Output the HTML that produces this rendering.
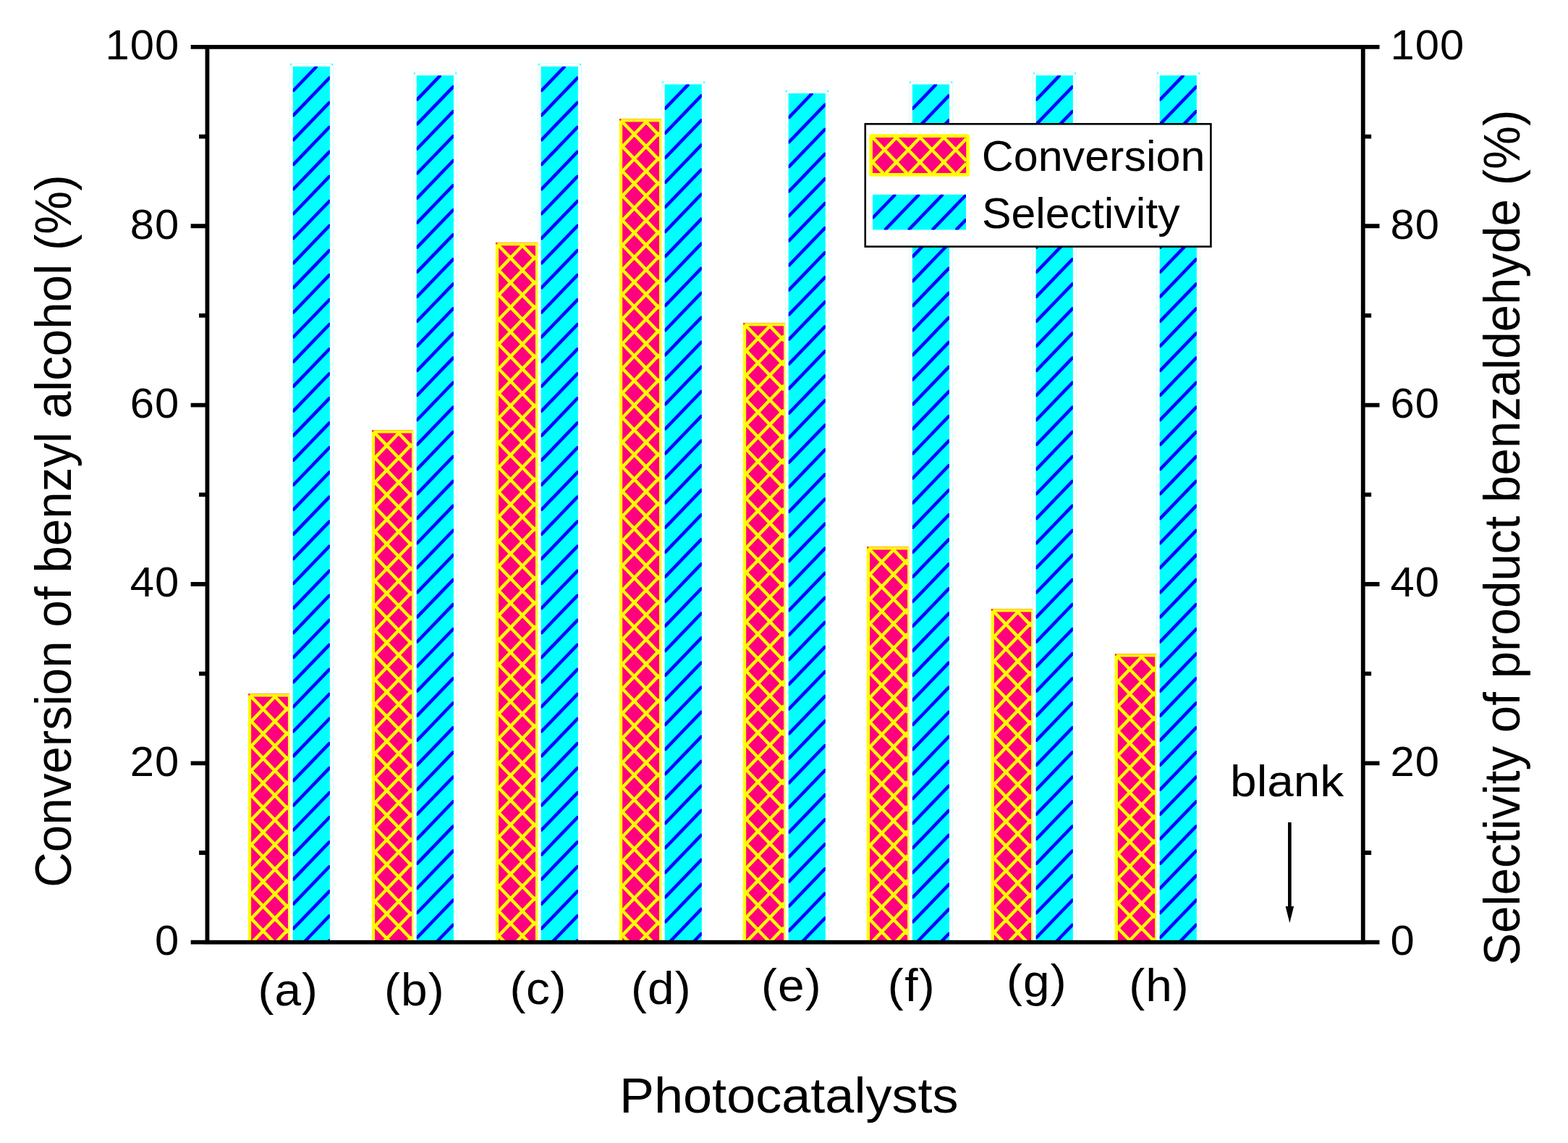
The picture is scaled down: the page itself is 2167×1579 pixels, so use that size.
<!DOCTYPE html>
<html lang="en"><head><meta charset="utf-8"><title>Photocatalysts: conversion and selectivity</title>
<style>html,body{margin:0;padding:0;background:#fff;}body{width:2167px;height:1579px;overflow:hidden;}svg{display:block;}text{font-family:'Liberation Sans', Arial, Helvetica, sans-serif;fill:#000;}</style>
</head><body>
<svg width="2167" height="1579" viewBox="0 0 2167 1579" role="img" aria-label="Bar chart of conversion of benzyl alcohol and selectivity of product benzaldehyde for photocatalysts (a) to (h)">
<rect width="2167" height="1579" fill="#fff"/>
<g id="bars">
<rect x="343.42" y="958.14" width="56.95" height="343.56" fill="#ff007f"/><clipPath id="c1"><rect x="346.67" y="962.04" width="51.77" height="339.66"/></clipPath><path clip-path="url(#c1)" d="M346.7 997.1L380.4 962.0M346.7 1031.2L398.4 977.4M346.7 1065.2L398.4 1011.4M346.7 1099.3L398.4 1045.5M346.7 1133.3L398.4 1079.5M346.7 1167.4L398.4 1113.6M346.7 1201.4L398.4 1147.6M346.7 1235.5L398.4 1181.7M346.7 1269.5L398.4 1215.7M348.5 1301.7L398.4 1249.8M381.2 1301.7L398.4 1283.8M346.7 1268.5L378.7 1301.7M346.7 1234.4L398.4 1288.2M346.7 1200.4L398.4 1254.2M346.7 1166.3L398.4 1220.1M346.7 1132.3L398.4 1186.0M346.7 1098.2L398.4 1152.0M346.7 1064.2L398.4 1118.0M346.7 1030.1L398.4 1083.9M346.7 996.1L398.4 1049.8M346.7 962.0L398.4 1015.8M379.5 962.0L398.4 981.8" stroke="#ffff00" stroke-width="4.50" stroke-linecap="butt" fill="none"/><rect x="342.82" y="958.14" width="4.35" height="343.56" fill="#ffff00"/><rect x="342.82" y="958.14" width="57.55" height="4.40" fill="#ffff00"/><rect x="397.94" y="958.14" width="2.43" height="343.56" fill="#ffff00"/><rect x="342.82" y="958.04" width="57.55" height="0.85" fill="#ff007f" fill-opacity="0.3"/><rect x="343.17" y="958.39" width="2.25" height="2.25" fill="#ff007f" fill-opacity="0.9"/>
<rect x="400.07" y="86.94" width="60.97" height="1214.76" fill="#fff"/><path d="M400.57 1301.70V88.94L402.07 87.44H459.04L460.54 88.94V1301.70" fill="none" stroke="#00ffff" stroke-opacity="0.17" stroke-width="1.05"/><rect x="401.07" y="87.99" width="1.90" height="2.05" fill="#00ffff" fill-opacity="0.85"/><rect x="458.14" y="87.99" width="1.90" height="2.05" fill="#00ffff" fill-opacity="0.85"/><rect x="404.77" y="91.84" width="51.12" height="1209.86" fill="#00ffff"/><clipPath id="c2"><rect x="404.77" y="91.84" width="51.12" height="1209.86"/></clipPath><path clip-path="url(#c2)" d="M405.6 125.0L436.7 92.7M405.6 159.1L455.1 107.7M405.6 193.1L455.1 141.8M405.6 227.2L455.1 175.8M405.6 261.2L455.1 209.9M405.6 295.3L455.1 243.9M405.6 329.3L455.1 278.0M405.6 363.4L455.1 312.0M405.6 397.4L455.1 346.1M405.6 431.5L455.1 380.1M405.6 465.5L455.1 414.2M405.6 499.6L455.1 448.2M405.6 533.6L455.1 482.3M405.6 567.7L455.1 516.3M405.6 601.7L455.1 550.4M405.6 635.8L455.1 584.4M405.6 669.8L455.1 618.5M405.6 703.9L455.1 652.5M405.6 737.9L455.1 686.6M405.6 772.0L455.1 720.6M405.6 806.0L455.1 754.7M405.6 840.1L455.1 788.7M405.6 874.1L455.1 822.8M405.6 908.2L455.1 856.8M405.6 942.2L455.1 890.9M405.6 976.3L455.1 924.9M405.6 1010.3L455.1 959.0M405.6 1044.4L455.1 993.0M405.6 1078.4L455.1 1027.1M405.6 1112.5L455.1 1061.1M405.6 1146.5L455.1 1095.2M405.6 1180.6L455.1 1129.2M405.6 1214.6L455.1 1163.3M405.6 1248.7L455.1 1197.3M405.6 1282.7L455.1 1231.4M420.1 1301.7L455.1 1265.4M452.9 1301.7L455.1 1299.5" stroke="#0000ff" stroke-width="4.50" stroke-linecap="round" fill="none"/>
<rect x="514.42" y="594.03" width="56.95" height="707.67" fill="#ff007f"/><clipPath id="c3"><rect x="517.67" y="597.93" width="51.77" height="703.77"/></clipPath><path clip-path="url(#c3)" d="M517.7 599.0L518.6 597.9M517.7 633.0L551.4 597.9M517.7 667.0L569.4 613.3M517.7 701.1L569.4 647.3M517.7 735.1L569.4 681.4M517.7 769.2L569.4 715.4M517.7 803.2L569.4 749.5M517.7 837.3L569.4 783.5M517.7 871.4L569.4 817.6M517.7 905.4L569.4 851.6M517.7 939.5L569.4 885.7M517.7 973.5L569.4 919.7M517.7 1007.5L569.4 953.8M517.7 1041.6L569.4 987.8M517.7 1075.7L569.4 1021.9M517.7 1109.7L569.4 1055.9M517.7 1143.8L569.4 1090.0M517.7 1177.8L569.4 1124.0M517.7 1211.8L569.4 1158.1M517.7 1245.9L569.4 1192.1M517.7 1280.0L569.4 1226.2M529.5 1301.7L569.4 1260.2M562.3 1301.7L569.4 1294.3M517.7 1278.9L539.6 1301.7M517.7 1244.9L569.4 1298.6M517.7 1210.8L569.4 1264.6M517.7 1176.8L569.4 1230.5M517.7 1142.7L569.4 1196.5M517.7 1108.7L569.4 1162.4M517.7 1074.6L569.4 1128.4M517.7 1040.6L569.4 1094.3M517.7 1006.5L569.4 1060.3M517.7 972.5L569.4 1026.2M517.7 938.4L569.4 992.2M517.7 904.4L569.4 958.1M517.7 870.3L569.4 924.1M517.7 836.3L569.4 890.0M517.7 802.2L569.4 856.0M517.7 768.2L569.4 821.9M517.7 734.1L569.4 787.9M517.7 700.1L569.4 753.8M517.7 666.0L569.4 719.8M517.7 632.0L569.4 685.7M517.7 597.9L569.4 651.7M550.5 597.9L569.4 617.6" stroke="#ffff00" stroke-width="4.50" stroke-linecap="butt" fill="none"/><rect x="513.82" y="594.03" width="4.35" height="707.67" fill="#ffff00"/><rect x="513.82" y="594.03" width="57.55" height="4.40" fill="#ffff00"/><rect x="568.94" y="594.03" width="2.43" height="707.67" fill="#ffff00"/><rect x="513.82" y="593.93" width="57.55" height="0.85" fill="#ff007f" fill-opacity="0.3"/><rect x="514.17" y="594.28" width="2.25" height="2.25" fill="#ff007f" fill-opacity="0.9"/>
<rect x="571.07" y="99.30" width="60.97" height="1202.40" fill="#fff"/><path d="M571.57 1301.70V101.30L573.07 99.80H630.04L631.54 101.30V1301.70" fill="none" stroke="#00ffff" stroke-opacity="0.17" stroke-width="1.05"/><rect x="572.07" y="100.35" width="1.90" height="2.05" fill="#00ffff" fill-opacity="0.85"/><rect x="629.14" y="100.35" width="1.90" height="2.05" fill="#00ffff" fill-opacity="0.85"/><rect x="575.77" y="104.20" width="51.12" height="1197.50" fill="#00ffff"/><clipPath id="c4"><rect x="575.77" y="104.20" width="51.12" height="1197.50"/></clipPath><path clip-path="url(#c4)" d="M576.6 137.4L607.7 105.1M576.6 171.4L626.1 120.1M576.6 205.5L626.1 154.1M576.6 239.5L626.1 188.2M576.6 273.6L626.1 222.2M576.6 307.6L626.1 256.3M576.6 341.7L626.1 290.3M576.6 375.7L626.1 324.4M576.6 409.8L626.1 358.4M576.6 443.8L626.1 392.5M576.6 477.9L626.1 426.5M576.6 511.9L626.1 460.6M576.6 546.0L626.1 494.6M576.6 580.0L626.1 528.7M576.6 614.1L626.1 562.7M576.6 648.1L626.1 596.8M576.6 682.2L626.1 630.8M576.6 716.2L626.1 664.9M576.6 750.3L626.1 698.9M576.6 784.3L626.1 733.0M576.6 818.4L626.1 767.0M576.6 852.4L626.1 801.1M576.6 886.5L626.1 835.1M576.6 920.5L626.1 869.2M576.6 954.6L626.1 903.2M576.6 988.6L626.1 937.3M576.6 1022.7L626.1 971.3M576.6 1056.7L626.1 1005.4M576.6 1090.8L626.1 1039.4M576.6 1124.8L626.1 1073.5M576.6 1158.9L626.1 1107.5M576.6 1192.9L626.1 1141.6M576.6 1227.0L626.1 1175.6M576.6 1261.0L626.1 1209.7M576.6 1295.1L626.1 1243.7M603.0 1301.7L626.1 1277.8" stroke="#0000ff" stroke-width="4.50" stroke-linecap="round" fill="none"/>
<rect x="685.42" y="334.92" width="57.87" height="966.78" fill="#ff007f"/><clipPath id="c5"><rect x="688.67" y="338.82" width="51.77" height="962.88"/></clipPath><path clip-path="url(#c5)" d="M688.7 373.9L722.4 338.8M688.7 407.9L740.4 354.2M688.7 442.0L740.4 388.2M688.7 476.0L740.4 422.3M688.7 510.1L740.4 456.3M688.7 544.1L740.4 490.4M688.7 578.2L740.4 524.4M688.7 612.2L740.4 558.5M688.7 646.3L740.4 592.5M688.7 680.3L740.4 626.6M688.7 714.4L740.4 660.6M688.7 748.4L740.4 694.7M688.7 782.5L740.4 728.7M688.7 816.5L740.4 762.8M688.7 850.6L740.4 796.8M688.7 884.6L740.4 830.9M688.7 918.7L740.4 864.9M688.7 952.7L740.4 899.0M688.7 986.8L740.4 933.0M688.7 1020.8L740.4 967.1M688.7 1054.9L740.4 1001.1M688.7 1088.9L740.4 1035.2M688.7 1123.0L740.4 1069.2M688.7 1157.0L740.4 1103.3M688.7 1191.1L740.4 1137.3M688.7 1225.1L740.4 1171.4M688.7 1259.2L740.4 1205.4M688.7 1293.2L740.4 1239.5M713.3 1301.7L740.4 1273.5M688.7 1292.2L697.8 1301.7M688.7 1258.2L730.6 1301.7M688.7 1224.1L740.4 1277.9M688.7 1190.0L740.4 1243.8M688.7 1156.0L740.4 1209.8M688.7 1122.0L740.4 1175.7M688.7 1087.9L740.4 1141.7M688.7 1053.8L740.4 1107.6M688.7 1019.8L740.4 1073.6M688.7 985.8L740.4 1039.5M688.7 951.7L740.4 1005.5M688.7 917.6L740.4 971.4M688.7 883.6L740.4 937.4M688.7 849.5L740.4 903.3M688.7 815.5L740.4 869.3M688.7 781.5L740.4 835.2M688.7 747.4L740.4 801.2M688.7 713.4L740.4 767.1M688.7 679.3L740.4 733.1M688.7 645.2L740.4 699.0M688.7 611.2L740.4 665.0M688.7 577.1L740.4 630.9M688.7 543.1L740.4 596.9M688.7 509.1L740.4 562.8M688.7 475.0L740.4 528.8M688.7 440.9L740.4 494.7M688.7 406.9L740.4 460.7M688.7 372.9L740.4 426.6M688.7 338.8L740.4 392.6M721.5 338.8L740.4 358.5" stroke="#ffff00" stroke-width="4.50" stroke-linecap="butt" fill="none"/><rect x="684.82" y="334.92" width="4.35" height="966.78" fill="#ffff00"/><rect x="684.82" y="334.92" width="58.47" height="4.40" fill="#ffff00"/><rect x="739.94" y="334.92" width="3.35" height="966.78" fill="#ffff00"/><rect x="684.82" y="334.82" width="58.47" height="0.85" fill="#ff007f" fill-opacity="0.3"/><rect x="685.17" y="335.17" width="2.25" height="2.25" fill="#ff007f" fill-opacity="0.9"/>
<rect x="742.99" y="86.94" width="60.97" height="1214.76" fill="#fff"/><path d="M743.49 1301.70V88.94L744.99 87.44H801.96L803.46 88.94V1301.70" fill="none" stroke="#00ffff" stroke-opacity="0.17" stroke-width="1.05"/><rect x="743.99" y="87.99" width="1.90" height="2.05" fill="#00ffff" fill-opacity="0.85"/><rect x="801.06" y="87.99" width="1.90" height="2.05" fill="#00ffff" fill-opacity="0.85"/><rect x="747.69" y="91.84" width="51.12" height="1209.86" fill="#00ffff"/><clipPath id="c6"><rect x="747.69" y="91.84" width="51.12" height="1209.86"/></clipPath><path clip-path="url(#c6)" d="M748.5 125.0L779.6 92.7M748.5 159.1L798.0 107.7M748.5 193.1L798.0 141.8M748.5 227.2L798.0 175.8M748.5 261.2L798.0 209.9M748.5 295.3L798.0 243.9M748.5 329.3L798.0 278.0M748.5 363.4L798.0 312.0M748.5 397.4L798.0 346.1M748.5 431.5L798.0 380.1M748.5 465.5L798.0 414.2M748.5 499.6L798.0 448.2M748.5 533.6L798.0 482.3M748.5 567.7L798.0 516.3M748.5 601.7L798.0 550.4M748.5 635.8L798.0 584.4M748.5 669.8L798.0 618.5M748.5 703.9L798.0 652.5M748.5 737.9L798.0 686.6M748.5 772.0L798.0 720.6M748.5 806.0L798.0 754.7M748.5 840.1L798.0 788.7M748.5 874.1L798.0 822.8M748.5 908.2L798.0 856.8M748.5 942.2L798.0 890.9M748.5 976.3L798.0 924.9M748.5 1010.3L798.0 959.0M748.5 1044.4L798.0 993.0M748.5 1078.4L798.0 1027.1M748.5 1112.5L798.0 1061.1M748.5 1146.5L798.0 1095.2M748.5 1180.6L798.0 1129.2M748.5 1214.6L798.0 1163.3M748.5 1248.7L798.0 1197.3M748.5 1282.7L798.0 1231.4M763.0 1301.7L798.0 1265.4M795.8 1301.7L798.0 1299.5" stroke="#0000ff" stroke-width="4.50" stroke-linecap="round" fill="none"/>
<rect x="856.42" y="163.99" width="57.87" height="1137.71" fill="#ff007f"/><clipPath id="c7"><rect x="859.67" y="167.89" width="51.77" height="1133.81"/></clipPath><path clip-path="url(#c7)" d="M859.7 168.9L860.6 167.9M859.7 203.0L893.4 167.9M859.7 237.0L911.4 183.2M859.7 271.1L911.4 217.3M859.7 305.1L911.4 251.3M859.7 339.2L911.4 285.4M859.7 373.2L911.4 319.4M859.7 407.3L911.4 353.5M859.7 441.3L911.4 387.5M859.7 475.4L911.4 421.6M859.7 509.4L911.4 455.6M859.7 543.5L911.4 489.7M859.7 577.5L911.4 523.7M859.7 611.6L911.4 557.8M859.7 645.6L911.4 591.8M859.7 679.7L911.4 625.9M859.7 713.7L911.4 659.9M859.7 747.8L911.4 694.0M859.7 781.8L911.4 728.0M859.7 815.9L911.4 762.1M859.7 849.9L911.4 796.1M859.7 884.0L911.4 830.2M859.7 918.0L911.4 864.2M859.7 952.1L911.4 898.3M859.7 986.1L911.4 932.3M859.7 1020.2L911.4 966.4M859.7 1054.2L911.4 1000.4M859.7 1088.3L911.4 1034.5M859.7 1122.3L911.4 1068.5M859.7 1156.4L911.4 1102.6M859.7 1190.4L911.4 1136.6M859.7 1224.5L911.4 1170.7M859.7 1258.5L911.4 1204.7M859.7 1292.6L911.4 1238.8M883.6 1301.7L911.4 1272.8M859.7 1291.5L869.5 1301.7M859.7 1257.5L902.2 1301.7M859.7 1223.4L911.4 1277.2M859.7 1189.4L911.4 1243.2M859.7 1155.3L911.4 1209.1M859.7 1121.3L911.4 1175.0M859.7 1087.2L911.4 1141.0M859.7 1053.2L911.4 1107.0M859.7 1019.1L911.4 1072.9M859.7 985.1L911.4 1038.8M859.7 951.0L911.4 1004.8M859.7 917.0L911.4 970.8M859.7 882.9L911.4 936.7M859.7 848.9L911.4 902.6M859.7 814.8L911.4 868.6M859.7 780.8L911.4 834.5M859.7 746.7L911.4 800.5M859.7 712.7L911.4 766.5M859.7 678.6L911.4 732.4M859.7 644.6L911.4 698.4M859.7 610.5L911.4 664.3M859.7 576.5L911.4 630.2M859.7 542.4L911.4 596.2M859.7 508.4L911.4 562.1M859.7 474.3L911.4 528.1M859.7 440.3L911.4 494.1M859.7 406.2L911.4 460.0M859.7 372.2L911.4 425.9M859.7 338.1L911.4 391.9M859.7 304.1L911.4 357.9M859.7 270.0L911.4 323.8M859.7 236.0L911.4 289.8M859.7 201.9L911.4 255.7M859.7 167.9L911.4 221.7M892.5 167.9L911.4 187.6" stroke="#ffff00" stroke-width="4.50" stroke-linecap="butt" fill="none"/><rect x="855.82" y="163.99" width="4.35" height="1137.71" fill="#ffff00"/><rect x="855.82" y="163.99" width="58.47" height="4.40" fill="#ffff00"/><rect x="910.94" y="163.99" width="3.35" height="1137.71" fill="#ffff00"/><rect x="855.82" y="163.89" width="58.47" height="0.85" fill="#ff007f" fill-opacity="0.3"/><rect x="856.17" y="164.24" width="2.25" height="2.25" fill="#ff007f" fill-opacity="0.9"/>
<rect x="913.99" y="111.67" width="60.97" height="1190.03" fill="#fff"/><path d="M914.49 1301.70V113.67L915.99 112.17H972.96L974.46 113.67V1301.70" fill="none" stroke="#00ffff" stroke-opacity="0.17" stroke-width="1.05"/><rect x="914.99" y="112.72" width="1.90" height="2.05" fill="#00ffff" fill-opacity="0.85"/><rect x="972.06" y="112.72" width="1.90" height="2.05" fill="#00ffff" fill-opacity="0.85"/><rect x="918.69" y="116.57" width="51.12" height="1185.13" fill="#00ffff"/><clipPath id="c8"><rect x="918.69" y="116.57" width="51.12" height="1185.13"/></clipPath><path clip-path="url(#c8)" d="M919.5 149.8L950.6 117.4M919.5 183.8L969.0 132.4M919.5 217.9L969.0 166.5M919.5 251.9L969.0 200.5M919.5 286.0L969.0 234.6M919.5 320.0L969.0 268.6M919.5 354.1L969.0 302.7M919.5 388.1L969.0 336.7M919.5 422.2L969.0 370.8M919.5 456.2L969.0 404.8M919.5 490.3L969.0 438.9M919.5 524.3L969.0 472.9M919.5 558.4L969.0 507.0M919.5 592.4L969.0 541.0M919.5 626.5L969.0 575.1M919.5 660.5L969.0 609.1M919.5 694.6L969.0 643.2M919.5 728.6L969.0 677.2M919.5 762.7L969.0 711.3M919.5 796.7L969.0 745.3M919.5 830.8L969.0 779.4M919.5 864.8L969.0 813.4M919.5 898.9L969.0 847.5M919.5 932.9L969.0 881.5M919.5 967.0L969.0 915.6M919.5 1001.0L969.0 949.6M919.5 1035.1L969.0 983.7M919.5 1069.1L969.0 1017.7M919.5 1103.2L969.0 1051.8M919.5 1137.2L969.0 1085.8M919.5 1171.3L969.0 1119.9M919.5 1205.3L969.0 1153.9M919.5 1239.4L969.0 1188.0M919.5 1273.4L969.0 1222.0M925.1 1301.7L969.0 1256.1M957.9 1301.7L969.0 1290.1" stroke="#0000ff" stroke-width="4.50" stroke-linecap="round" fill="none"/>
<rect x="1027.42" y="445.98" width="57.87" height="855.72" fill="#ff007f"/><clipPath id="c9"><rect x="1030.67" y="449.88" width="52.88" height="851.82"/></clipPath><path clip-path="url(#c9)" d="M1030.7 484.9L1064.4 449.9M1030.7 519.0L1083.5 464.1M1030.7 553.0L1083.5 498.1M1030.7 587.1L1083.5 532.2M1030.7 621.1L1083.5 566.2M1030.7 655.2L1083.5 600.3M1030.7 689.2L1083.5 634.3M1030.7 723.3L1083.5 668.4M1030.7 757.4L1083.5 702.4M1030.7 791.4L1083.5 736.5M1030.7 825.5L1083.5 770.5M1030.7 859.5L1083.5 804.6M1030.7 893.5L1083.5 838.6M1030.7 927.6L1083.5 872.7M1030.7 961.6L1083.5 906.7M1030.7 995.7L1083.5 940.8M1030.7 1029.8L1083.5 974.8M1030.7 1063.8L1083.5 1008.9M1030.7 1097.8L1083.5 1042.9M1030.7 1131.9L1083.5 1077.0M1030.7 1166.0L1083.5 1111.0M1030.7 1200.0L1083.5 1145.1M1030.7 1234.0L1083.5 1179.1M1030.7 1268.1L1083.5 1213.2M1031.1 1301.7L1083.5 1247.2M1063.9 1301.7L1083.5 1281.3M1030.7 1267.1L1064.0 1301.7M1030.7 1233.0L1083.5 1287.9M1030.7 1199.0L1083.5 1253.9M1030.7 1164.9L1083.5 1219.8M1030.7 1130.9L1083.5 1185.8M1030.7 1096.8L1083.5 1151.7M1030.7 1062.8L1083.5 1117.7M1030.7 1028.7L1083.5 1083.6M1030.7 994.7L1083.5 1049.6M1030.7 960.6L1083.5 1015.5M1030.7 926.6L1083.5 981.5M1030.7 892.5L1083.5 947.4M1030.7 858.5L1083.5 913.4M1030.7 824.4L1083.5 879.3M1030.7 790.4L1083.5 845.3M1030.7 756.3L1083.5 811.2M1030.7 722.3L1083.5 777.2M1030.7 688.2L1083.5 743.1M1030.7 654.2L1083.5 709.1M1030.7 620.1L1083.5 675.0M1030.7 586.1L1083.5 641.0M1030.7 552.0L1083.5 606.9M1030.7 518.0L1083.5 572.9M1030.7 483.9L1083.5 538.8M1030.7 449.9L1083.5 504.8M1063.5 449.9L1083.5 470.7" stroke="#ffff00" stroke-width="4.50" stroke-linecap="butt" fill="none"/><rect x="1026.82" y="445.98" width="4.35" height="855.72" fill="#ffff00"/><rect x="1026.82" y="445.98" width="58.47" height="4.40" fill="#ffff00"/><rect x="1083.05" y="445.98" width="2.24" height="855.72" fill="#ffff00"/><rect x="1026.82" y="445.88" width="58.47" height="0.85" fill="#ff007f" fill-opacity="0.3"/><rect x="1027.17" y="446.23" width="2.25" height="2.25" fill="#ff007f" fill-opacity="0.9"/>
<rect x="1084.99" y="124.04" width="60.97" height="1177.66" fill="#fff"/><path d="M1085.49 1301.70V126.04L1086.99 124.54H1143.96L1145.46 126.04V1301.70" fill="none" stroke="#00ffff" stroke-opacity="0.17" stroke-width="1.05"/><rect x="1085.99" y="125.09" width="1.90" height="2.05" fill="#00ffff" fill-opacity="0.85"/><rect x="1143.06" y="125.09" width="1.90" height="2.05" fill="#00ffff" fill-opacity="0.85"/><rect x="1089.69" y="128.94" width="51.12" height="1172.76" fill="#00ffff"/><clipPath id="c10"><rect x="1089.69" y="128.94" width="51.12" height="1172.76"/></clipPath><path clip-path="url(#c10)" d="M1090.5 162.1L1121.6 129.8M1090.5 196.2L1140.0 144.8M1090.5 230.2L1140.0 178.9M1090.5 264.3L1140.0 212.9M1090.5 298.3L1140.0 247.0M1090.5 332.4L1140.0 281.0M1090.5 366.4L1140.0 315.1M1090.5 400.5L1140.0 349.1M1090.5 434.5L1140.0 383.2M1090.5 468.6L1140.0 417.2M1090.5 502.6L1140.0 451.3M1090.5 536.7L1140.0 485.3M1090.5 570.7L1140.0 519.4M1090.5 604.8L1140.0 553.4M1090.5 638.8L1140.0 587.5M1090.5 672.9L1140.0 621.5M1090.5 706.9L1140.0 655.6M1090.5 741.0L1140.0 689.6M1090.5 775.0L1140.0 723.7M1090.5 809.1L1140.0 757.7M1090.5 843.1L1140.0 791.8M1090.5 877.2L1140.0 825.8M1090.5 911.2L1140.0 859.9M1090.5 945.3L1140.0 893.9M1090.5 979.3L1140.0 928.0M1090.5 1013.4L1140.0 962.0M1090.5 1047.4L1140.0 996.1M1090.5 1081.5L1140.0 1030.1M1090.5 1115.5L1140.0 1064.2M1090.5 1149.6L1140.0 1098.2M1090.5 1183.6L1140.0 1132.3M1090.5 1217.7L1140.0 1166.3M1090.5 1251.7L1140.0 1200.4M1090.5 1285.8L1140.0 1234.4M1108.0 1301.7L1140.0 1268.5" stroke="#0000ff" stroke-width="4.50" stroke-linecap="round" fill="none"/>
<rect x="1198.42" y="755.06" width="58.05" height="546.64" fill="#ff007f"/><clipPath id="c11"><rect x="1201.67" y="758.96" width="52.88" height="542.74"/></clipPath><path clip-path="url(#c11)" d="M1201.7 794.0L1235.4 759.0M1201.7 828.1L1254.5 773.1M1201.7 862.1L1254.5 807.2M1201.7 896.2L1254.5 841.2M1201.7 930.2L1254.5 875.3M1201.7 964.3L1254.5 909.4M1201.7 998.3L1254.5 943.4M1201.7 1032.4L1254.5 977.5M1201.7 1066.4L1254.5 1011.5M1201.7 1100.5L1254.5 1045.5M1201.7 1134.5L1254.5 1079.6M1201.7 1168.6L1254.5 1113.7M1201.7 1202.6L1254.5 1147.7M1201.7 1236.7L1254.5 1181.8M1201.7 1270.7L1254.5 1215.8M1204.6 1301.7L1254.5 1249.8M1237.4 1301.7L1254.5 1283.9M1201.7 1269.7L1232.5 1301.7M1201.7 1235.6L1254.5 1290.6M1201.7 1201.6L1254.5 1256.5M1201.7 1167.5L1254.5 1222.5M1201.7 1133.5L1254.5 1188.4M1201.7 1099.4L1254.5 1154.4M1201.7 1065.4L1254.5 1120.3M1201.7 1031.3L1254.5 1086.3M1201.7 997.3L1254.5 1052.2M1201.7 963.2L1254.5 1018.2M1201.7 929.2L1254.5 984.1M1201.7 895.1L1254.5 950.1M1201.7 861.1L1254.5 916.0M1201.7 827.0L1254.5 882.0M1201.7 793.0L1254.5 847.9M1201.7 759.0L1254.5 813.9M1234.5 759.0L1254.5 779.8" stroke="#ffff00" stroke-width="4.50" stroke-linecap="butt" fill="none"/><rect x="1197.82" y="755.06" width="4.35" height="546.64" fill="#ffff00"/><rect x="1197.82" y="755.06" width="58.65" height="4.40" fill="#ffff00"/><rect x="1254.05" y="755.06" width="2.42" height="546.64" fill="#ffff00"/><rect x="1197.82" y="754.96" width="58.65" height="0.85" fill="#ff007f" fill-opacity="0.3"/><rect x="1198.17" y="755.31" width="2.25" height="2.25" fill="#ff007f" fill-opacity="0.9"/>
<rect x="1256.17" y="111.67" width="60.97" height="1190.03" fill="#fff"/><path d="M1256.67 1301.70V113.67L1258.17 112.17H1315.14L1316.64 113.67V1301.70" fill="none" stroke="#00ffff" stroke-opacity="0.17" stroke-width="1.05"/><rect x="1257.17" y="112.72" width="1.90" height="2.05" fill="#00ffff" fill-opacity="0.85"/><rect x="1314.24" y="112.72" width="1.90" height="2.05" fill="#00ffff" fill-opacity="0.85"/><rect x="1260.87" y="116.57" width="51.12" height="1185.13" fill="#00ffff"/><clipPath id="c12"><rect x="1260.87" y="116.57" width="51.12" height="1185.13"/></clipPath><path clip-path="url(#c12)" d="M1261.7 149.8L1292.8 117.4M1261.7 183.8L1311.2 132.4M1261.7 217.9L1311.2 166.5M1261.7 251.9L1311.2 200.5M1261.7 286.0L1311.2 234.6M1261.7 320.0L1311.2 268.6M1261.7 354.1L1311.2 302.7M1261.7 388.1L1311.2 336.7M1261.7 422.2L1311.2 370.8M1261.7 456.2L1311.2 404.8M1261.7 490.3L1311.2 438.9M1261.7 524.3L1311.2 472.9M1261.7 558.4L1311.2 507.0M1261.7 592.4L1311.2 541.0M1261.7 626.5L1311.2 575.1M1261.7 660.5L1311.2 609.1M1261.7 694.6L1311.2 643.2M1261.7 728.6L1311.2 677.2M1261.7 762.7L1311.2 711.3M1261.7 796.7L1311.2 745.3M1261.7 830.8L1311.2 779.4M1261.7 864.8L1311.2 813.4M1261.7 898.9L1311.2 847.5M1261.7 932.9L1311.2 881.5M1261.7 967.0L1311.2 915.6M1261.7 1001.0L1311.2 949.6M1261.7 1035.1L1311.2 983.7M1261.7 1069.1L1311.2 1017.7M1261.7 1103.2L1311.2 1051.8M1261.7 1137.2L1311.2 1085.8M1261.7 1171.3L1311.2 1119.9M1261.7 1205.3L1311.2 1153.9M1261.7 1239.4L1311.2 1188.0M1261.7 1273.4L1311.2 1222.0M1267.2 1301.7L1311.2 1256.1M1300.0 1301.7L1311.2 1290.1" stroke="#0000ff" stroke-width="4.50" stroke-linecap="round" fill="none"/>
<rect x="1370.16" y="841.02" width="57.13" height="460.68" fill="#ff007f"/><clipPath id="c13"><rect x="1373.41" y="844.92" width="52.14" height="456.78"/></clipPath><path clip-path="url(#c13)" d="M1373.4 845.9L1374.4 844.9M1373.4 880.0L1407.2 844.9M1373.4 914.0L1425.5 859.9M1373.4 948.1L1425.5 893.9M1373.4 982.1L1425.5 928.0M1373.4 1016.2L1425.5 962.0M1373.4 1050.2L1425.5 996.1M1373.4 1084.3L1425.5 1030.1M1373.4 1118.3L1425.5 1064.2M1373.4 1152.4L1425.5 1098.2M1373.4 1186.4L1425.5 1132.3M1373.4 1220.5L1425.5 1166.3M1373.4 1254.5L1425.5 1200.4M1373.4 1288.6L1425.5 1234.4M1393.6 1301.7L1425.5 1268.5M1373.4 1287.5L1387.0 1301.7M1373.4 1253.5L1419.8 1301.7M1373.4 1219.5L1425.5 1273.6M1373.4 1185.4L1425.5 1239.6M1373.4 1151.3L1425.5 1205.5M1373.4 1117.3L1425.5 1171.5M1373.4 1083.2L1425.5 1137.4M1373.4 1049.2L1425.5 1103.4M1373.4 1015.1L1425.5 1069.3M1373.4 981.1L1425.5 1035.3M1373.4 947.0L1425.5 1001.2M1373.4 913.0L1425.5 967.2M1373.4 879.0L1425.5 933.1M1373.4 844.9L1425.5 899.1M1406.2 844.9L1425.5 865.0" stroke="#ffff00" stroke-width="4.50" stroke-linecap="butt" fill="none"/><rect x="1369.56" y="841.02" width="4.35" height="460.68" fill="#ffff00"/><rect x="1369.56" y="841.02" width="57.73" height="4.40" fill="#ffff00"/><rect x="1425.05" y="841.02" width="2.24" height="460.68" fill="#ffff00"/><rect x="1369.56" y="840.92" width="57.73" height="0.85" fill="#ff007f" fill-opacity="0.3"/><rect x="1369.91" y="841.27" width="2.25" height="2.25" fill="#ff007f" fill-opacity="0.9"/>
<rect x="1426.99" y="99.30" width="60.97" height="1202.40" fill="#fff"/><path d="M1427.49 1301.70V101.30L1428.99 99.80H1485.96L1487.46 101.30V1301.70" fill="none" stroke="#00ffff" stroke-opacity="0.17" stroke-width="1.05"/><rect x="1427.99" y="100.35" width="1.90" height="2.05" fill="#00ffff" fill-opacity="0.85"/><rect x="1485.06" y="100.35" width="1.90" height="2.05" fill="#00ffff" fill-opacity="0.85"/><rect x="1431.69" y="104.20" width="51.12" height="1197.50" fill="#00ffff"/><clipPath id="c14"><rect x="1431.69" y="104.20" width="51.12" height="1197.50"/></clipPath><path clip-path="url(#c14)" d="M1432.5 137.4L1463.6 105.1M1432.5 171.4L1482.0 120.1M1432.5 205.5L1482.0 154.1M1432.5 239.5L1482.0 188.2M1432.5 273.6L1482.0 222.2M1432.5 307.6L1482.0 256.3M1432.5 341.7L1482.0 290.3M1432.5 375.7L1482.0 324.4M1432.5 409.8L1482.0 358.4M1432.5 443.8L1482.0 392.5M1432.5 477.9L1482.0 426.5M1432.5 511.9L1482.0 460.6M1432.5 546.0L1482.0 494.6M1432.5 580.0L1482.0 528.7M1432.5 614.1L1482.0 562.7M1432.5 648.1L1482.0 596.8M1432.5 682.2L1482.0 630.8M1432.5 716.2L1482.0 664.9M1432.5 750.3L1482.0 698.9M1432.5 784.3L1482.0 733.0M1432.5 818.4L1482.0 767.0M1432.5 852.4L1482.0 801.1M1432.5 886.5L1482.0 835.1M1432.5 920.5L1482.0 869.2M1432.5 954.6L1482.0 903.2M1432.5 988.6L1482.0 937.3M1432.5 1022.7L1482.0 971.3M1432.5 1056.7L1482.0 1005.4M1432.5 1090.8L1482.0 1039.4M1432.5 1124.8L1482.0 1073.5M1432.5 1158.9L1482.0 1107.5M1432.5 1192.9L1482.0 1141.6M1432.5 1227.0L1482.0 1175.6M1432.5 1261.0L1482.0 1209.7M1432.5 1295.1L1482.0 1243.7M1458.9 1301.7L1482.0 1277.8" stroke="#0000ff" stroke-width="4.50" stroke-linecap="round" fill="none"/>
<rect x="1541.16" y="903.11" width="57.13" height="398.59" fill="#ff007f"/><clipPath id="c15"><rect x="1544.41" y="907.01" width="52.14" height="394.69"/></clipPath><path clip-path="url(#c15)" d="M1544.4 942.1L1578.2 907.0M1544.4 976.1L1596.5 922.0M1544.4 1010.2L1596.5 956.0M1544.4 1044.2L1596.5 990.1M1544.4 1078.3L1596.5 1024.1M1544.4 1112.3L1596.5 1058.2M1544.4 1146.4L1596.5 1092.2M1544.4 1180.4L1596.5 1126.3M1544.4 1214.5L1596.5 1160.3M1544.4 1248.5L1596.5 1194.4M1544.4 1282.6L1596.5 1228.4M1558.8 1301.7L1596.5 1262.5M1591.6 1301.7L1596.5 1296.5M1544.4 1281.5L1563.8 1301.7M1544.4 1247.5L1596.5 1301.7M1544.4 1213.4L1596.5 1267.6M1544.4 1179.4L1596.5 1233.5M1544.4 1145.3L1596.5 1199.5M1544.4 1111.3L1596.5 1165.5M1544.4 1077.2L1596.5 1131.4M1544.4 1043.2L1596.5 1097.3M1544.4 1009.1L1596.5 1063.3M1544.4 975.1L1596.5 1029.2M1544.4 941.0L1596.5 995.2M1544.4 907.0L1596.5 961.1M1577.2 907.0L1596.5 927.1" stroke="#ffff00" stroke-width="4.50" stroke-linecap="butt" fill="none"/><rect x="1540.56" y="903.11" width="4.35" height="398.59" fill="#ffff00"/><rect x="1540.56" y="903.11" width="57.73" height="4.40" fill="#ffff00"/><rect x="1596.05" y="903.11" width="2.24" height="398.59" fill="#ffff00"/><rect x="1540.56" y="903.01" width="57.73" height="0.85" fill="#ff007f" fill-opacity="0.3"/><rect x="1540.91" y="903.36" width="2.25" height="2.25" fill="#ff007f" fill-opacity="0.9"/>
<rect x="1597.99" y="99.30" width="60.97" height="1202.40" fill="#fff"/><path d="M1598.49 1301.70V101.30L1599.99 99.80H1656.96L1658.46 101.30V1301.70" fill="none" stroke="#00ffff" stroke-opacity="0.17" stroke-width="1.05"/><rect x="1598.99" y="100.35" width="1.90" height="2.05" fill="#00ffff" fill-opacity="0.85"/><rect x="1656.06" y="100.35" width="1.90" height="2.05" fill="#00ffff" fill-opacity="0.85"/><rect x="1602.69" y="104.20" width="51.12" height="1197.50" fill="#00ffff"/><clipPath id="c16"><rect x="1602.69" y="104.20" width="51.12" height="1197.50"/></clipPath><path clip-path="url(#c16)" d="M1603.5 137.4L1634.6 105.1M1603.5 171.4L1653.0 120.1M1603.5 205.5L1653.0 154.1M1603.5 239.5L1653.0 188.2M1603.5 273.6L1653.0 222.2M1603.5 307.6L1653.0 256.3M1603.5 341.7L1653.0 290.3M1603.5 375.7L1653.0 324.4M1603.5 409.8L1653.0 358.4M1603.5 443.8L1653.0 392.5M1603.5 477.9L1653.0 426.5M1603.5 511.9L1653.0 460.6M1603.5 546.0L1653.0 494.6M1603.5 580.0L1653.0 528.7M1603.5 614.1L1653.0 562.7M1603.5 648.1L1653.0 596.8M1603.5 682.2L1653.0 630.8M1603.5 716.2L1653.0 664.9M1603.5 750.3L1653.0 698.9M1603.5 784.3L1653.0 733.0M1603.5 818.4L1653.0 767.0M1603.5 852.4L1653.0 801.1M1603.5 886.5L1653.0 835.1M1603.5 920.5L1653.0 869.2M1603.5 954.6L1653.0 903.2M1603.5 988.6L1653.0 937.3M1603.5 1022.7L1653.0 971.3M1603.5 1056.7L1653.0 1005.4M1603.5 1090.8L1653.0 1039.4M1603.5 1124.8L1653.0 1073.5M1603.5 1158.9L1653.0 1107.5M1603.5 1192.9L1653.0 1141.6M1603.5 1227.0L1653.0 1175.6M1603.5 1261.0L1653.0 1209.7M1603.5 1295.1L1653.0 1243.7M1629.9 1301.7L1653.0 1277.8" stroke="#0000ff" stroke-width="4.50" stroke-linecap="round" fill="none"/>
</g>
<rect x="0" y="1301.70" width="2167" height="277.30" fill="#fff"/>
<g id="axes" stroke="#000" stroke-width="5.80" fill="none" stroke-linecap="butt" stroke-linejoin="miter">
<rect x="286.45" y="64.90" width="1597.30" height="1236.80"/>
<path d="M284.15 1301.70H263.70M1886.05 1301.70H1906.50"/>
<path d="M284.15 1178.02H275.05M1886.05 1178.02H1895.15"/>
<path d="M284.15 1054.34H263.70M1886.05 1054.34H1906.50"/>
<path d="M284.15 930.66H275.05M1886.05 930.66H1895.15"/>
<path d="M284.15 806.98H263.70M1886.05 806.98H1906.50"/>
<path d="M284.15 683.30H275.05M1886.05 683.30H1895.15"/>
<path d="M284.15 559.62H263.70M1886.05 559.62H1906.50"/>
<path d="M284.15 435.94H275.05M1886.05 435.94H1895.15"/>
<path d="M284.15 312.26H263.70M1886.05 312.26H1906.50"/>
<path d="M284.15 188.58H275.05M1886.05 188.58H1895.15"/>
<path d="M284.15 64.90H263.70M1886.05 64.90H1906.50"/>
</g>
<g id="ticklabels" font-size="58.0" letter-spacing="1.067">
<text transform="translate(214.08 1318.95) scale(1.0306 1.0024)">0</text>
<text transform="translate(1921.38 1318.95) scale(1.0306 1.0024)">0</text>
<text transform="translate(179.74 1071.99) scale(1.0306 1.0024)">20</text>
<text transform="translate(1921.38 1071.99) scale(1.0306 1.0024)">20</text>
<text transform="translate(179.74 823.98) scale(1.0306 1.0024)">40</text>
<text transform="translate(1921.38 823.98) scale(1.0306 1.0024)">40</text>
<text transform="translate(179.74 576.87) scale(1.0306 1.0024)">60</text>
<text transform="translate(1921.38 576.87) scale(1.0306 1.0024)">60</text>
<text transform="translate(179.74 329.81) scale(1.0306 1.0024)">80</text>
<text transform="translate(1921.38 329.81) scale(1.0306 1.0024)">80</text>
<text transform="translate(145.41 81.75) scale(1.0306 1.0024)">100</text>
<text transform="translate(1921.38 81.75) scale(1.0306 1.0024)">100</text>
</g>
<g id="labels">
<text transform="translate(356.42 1388.68) scale(1.0450 0.9863)" font-size="63.0" letter-spacing="1.002">(a)</text>
<text transform="translate(531.12 1388.68) scale(1.0450 0.9863)" font-size="63.0" letter-spacing="1.002">(b)</text>
<text transform="translate(704.45 1387.08) scale(1.0450 0.9863)" font-size="63.0" letter-spacing="0.623">(c)</text>
<text transform="translate(872.07 1386.98) scale(1.0450 0.9863)" font-size="63.0" letter-spacing="1.002">(d)</text>
<text transform="translate(1052.02 1382.78) scale(1.0450 0.9863)" font-size="63.0" letter-spacing="1.002">(e)</text>
<text transform="translate(1226.82 1382.78) scale(1.0450 0.9863)" font-size="63.0" letter-spacing="1.331">(f)</text>
<text transform="translate(1391.12 1377.08) scale(1.0450 0.9863)" font-size="63.0" letter-spacing="1.002">(g)</text>
<text transform="translate(1560.17 1382.78) scale(1.0450 0.9863)" font-size="63.0" letter-spacing="1.002">(h)</text>
<text transform="translate(855.93 1537.30) scale(1.0675 1.0040)" font-size="67.5">Photocatalysts</text>
<text transform="translate(97.79 1225.89) scale(1.0508 0.9980) rotate(-90)" font-size="67.5">Conversion of benzyl alcohol (%)</text>
<text transform="translate(2099.97 1333.79) scale(1.0524 0.9972) rotate(-90)" font-size="67.5">Selectivity of product benzaldehyde (%)</text>
<text transform="translate(1700.09 1100.01) scale(1.0519 0.9727)" font-size="62.5">blank</text>
</g>
<path d="M1782.35 1136 V1253" stroke="#000" stroke-width="4.7" fill="none"/>
<path d="M1776.6 1251.9 L1788.1 1251.9 L1782.35 1275.3 Z" fill="#000"/>
<g id="legend">
<rect x="1195.75" y="171.25" width="477.65" height="169.4" fill="#fff" stroke="#000" stroke-width="2.6"/>
<rect x="1203.60" y="187.60" width="133.95" height="53.85" fill="#ff007f"/>
<clipPath id="c17"><rect x="1205.50" y="189.50" width="130.00" height="50.00"/></clipPath><path clip-path="url(#c17)" d="M1205.5 224.5L1239.2 189.5M1223.9 239.5L1272.0 189.5M1256.6 239.5L1304.8 189.5M1289.4 239.5L1335.5 191.6M1322.2 239.5L1335.5 225.7M1205.5 223.5L1220.9 239.5M1205.6 189.5L1253.7 239.5M1238.3 189.5L1286.5 239.5M1271.1 189.5L1319.3 239.5M1303.9 189.5L1335.5 222.3" stroke="#ffff00" stroke-width="4.50" stroke-linecap="butt" fill="none"/>
<rect x="1203.6" y="187.6" width="133.95" height="53.85" fill="none" stroke="#ffff00" stroke-width="4.75" stroke-linejoin="round"/>
<rect x="1206" y="268.8" width="129" height="48.65" fill="#00ffff"/>
<clipPath id="c18"><rect x="1206.00" y="268.80" width="129.00" height="48.65"/></clipPath><path clip-path="url(#c18)" d="M1206.8 300.3L1236.3 269.7M1224.0 316.6L1269.1 269.7M1256.7 316.6L1301.9 269.7M1289.5 316.6L1334.2 270.2M1322.3 316.6L1334.2 304.3" stroke="#0000ff" stroke-width="4.50" stroke-linecap="round" fill="none"/>
<text transform="translate(1356.64 236.30) scale(1.0527 1.0120)" font-size="58.0">Conversion</text>
<text transform="translate(1356.92 315.10) scale(1.0481 1.0120)" font-size="58.0">Selectivity</text>
</g>
</svg>
</body></html>
